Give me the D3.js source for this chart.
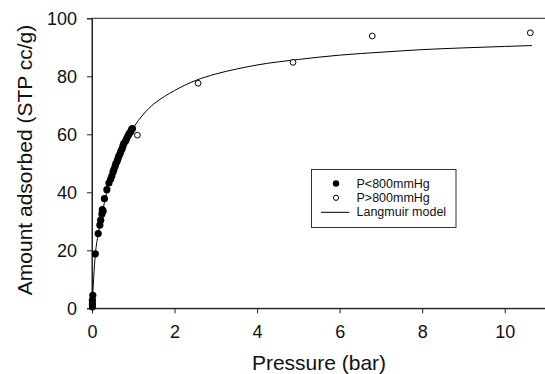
<!DOCTYPE html>
<html>
<head>
<meta charset="utf-8">
<script src="https://cdn.jsdelivr.net/npm/d3@7"></script>
<style>
  body { margin: 0; background: #fff; }
  text { font-family: "Liberation Sans", Arial, sans-serif; fill: #111; }
</style>
</head>
<body>
<div id="chart"></div>
<script>
// filled points (P < 800 mmHg): [pressure bar, amount]
const lowP = [
  [0.01, 0.5], [0.01, 1.5], [0.01, 2.8], [0.02, 4.5],
  [0.08, 18.8], [0.15, 25.8], [0.19, 28.7], [0.21, 30.4], [0.24, 32.5],
  [0.25, 34.0], [0.27, 33.5], [0.30, 37.8], [0.36, 40.9], [0.41, 43.2],
  [0.45, 44.5], [0.48, 45.6], [0.51, 47.0], [0.53, 47.8], [0.56, 49.0],
  [0.58, 49.9], [0.61, 50.8], [0.63, 51.6], [0.65, 52.5], [0.68, 53.3],
  [0.70, 54.2], [0.73, 55.0], [0.75, 56.0], [0.77, 56.8], [0.81, 57.6],
  [0.84, 58.5], [0.87, 59.4], [0.90, 60.2], [0.94, 61.0], [0.96, 61.7],
  [0.98, 62.0]
];
// open points (P > 800 mmHg)
const highP = [
  [1.10, 59.7], [2.57, 77.6], [4.87, 84.8], [6.79, 93.9], [10.62, 95.0]
];
// Langmuir model curve
const model = [
  [0, 0], [0.08, 18.5], [0.15, 25.5], [0.25, 33], [0.35, 39.5], [0.5, 46.3],
  [0.65, 52.3], [0.8, 57.3], [1.0, 62.2], [1.25, 67], [1.5, 70.5], [1.75, 73],
  [2, 75.1], [2.5, 78.5], [3, 80.8], [3.5, 82.5], [4, 83.9], [5, 85.8],
  [6, 87.3], [7, 88.3], [8, 89.2], [9, 89.8], [10, 90.3], [10.66, 90.6]
];
const xTicks = [0, 2, 4, 6, 8, 10];
const yTicks = [0, 20, 40, 60, 80, 100];
const legendItems = ["P<800mmHg", "P>800mmHg", "Langmuir model"];

const width = 545, height = 374;
const svg = d3.select("#chart").append("svg")
  .attr("width", width).attr("height", height);

const x = d3.scaleLinear().domain([0, 11]).range([92, 546]);
const y = d3.scaleLinear().domain([0, 100]).range([308.3, 18.3]);

// frame (right edge falls outside the picture)
svg.append("rect")
  .attr("x", x(0)).attr("y", y(100))
  .attr("width", x(11) - x(0)).attr("height", y(0) - y(100))
  .attr("fill", "none").attr("stroke", "#222").attr("stroke-width", 1);

const xAxis = svg.append("g")
  .attr("transform", `translate(0,${y(0)})`)
  .call(d3.axisBottom(x).tickValues(xTicks).tickSize(5).tickPadding(12).tickFormat(d3.format("d")));
const yAxis = svg.append("g")
  .attr("transform", `translate(${x(0)},0)`)
  .call(d3.axisLeft(y).tickValues(yTicks).tickSize(5).tickPadding(10).tickFormat(d3.format("d")));

[xAxis, yAxis].forEach(g => {
  g.select(".domain").attr("stroke", "#222");
  g.selectAll(".tick line").attr("stroke", "#222");
  g.selectAll(".tick text")
    .attr("font-size", "18px")
    .attr("font-family", "Liberation Sans, Arial, sans-serif")
    .attr("fill", "#111");
});

svg.append("text")
  .attr("x", 319).attr("y", 370)
  .attr("text-anchor", "middle")
  .attr("font-size", "21px")
  .text("Pressure (bar)");

svg.append("text")
  .attr("transform", "translate(24,160) rotate(-90)")
  .attr("text-anchor", "middle")
  .attr("dominant-baseline", "central")
  .attr("font-size", "21px")
  .text("Amount adsorbed (STP cc/g)");

// model line
const line = d3.line()
  .x(d => x(d[0])).y(d => y(d[1]))
  .curve(d3.curveMonotoneX);
svg.append("path")
  .datum(model)
  .attr("d", line)
  .attr("fill", "none")
  .attr("stroke", "#000")
  .attr("stroke-width", 1);

svg.selectAll("circle.low")
  .data(lowP).enter().append("circle")
  .attr("class", "low")
  .attr("cx", d => x(d[0])).attr("cy", d => y(d[1]))
  .attr("r", 3.6).attr("fill", "#000");

svg.selectAll("circle.high")
  .data(highP).enter().append("circle")
  .attr("class", "high")
  .attr("cx", d => x(d[0])).attr("cy", d => y(d[1]))
  .attr("r", 2.9).attr("fill", "#fff")
  .attr("stroke", "#000").attr("stroke-width", 1);

// legend
const lg = svg.append("g");
lg.append("rect")
  .attr("x", 311.5).attr("y", 169.5).attr("width", 144.5).attr("height", 58)
  .attr("fill", "#fff").attr("stroke", "#333").attr("stroke-width", 1);

const rowY = [183.5, 197.8, 212.3];
lg.append("circle").attr("cx", 336).attr("cy", rowY[0]).attr("r", 3.2).attr("fill", "#000");
lg.append("circle").attr("cx", 336).attr("cy", rowY[1]).attr("r", 2.6)
  .attr("fill", "#fff").attr("stroke", "#000").attr("stroke-width", 1);
lg.append("line").attr("x1", 321).attr("x2", 349.5).attr("y1", rowY[2]).attr("y2", rowY[2])
  .attr("stroke", "#000").attr("stroke-width", 1);

lg.selectAll("text.lt")
  .data(legendItems).enter().append("text")
  .attr("class", "lt")
  .attr("x", 356.5)
  .attr("y", (d, i) => rowY[i])
  .attr("dominant-baseline", "central")
  .attr("font-size", "12.5px")
  .text(d => d);
</script>
</body>
</html>
